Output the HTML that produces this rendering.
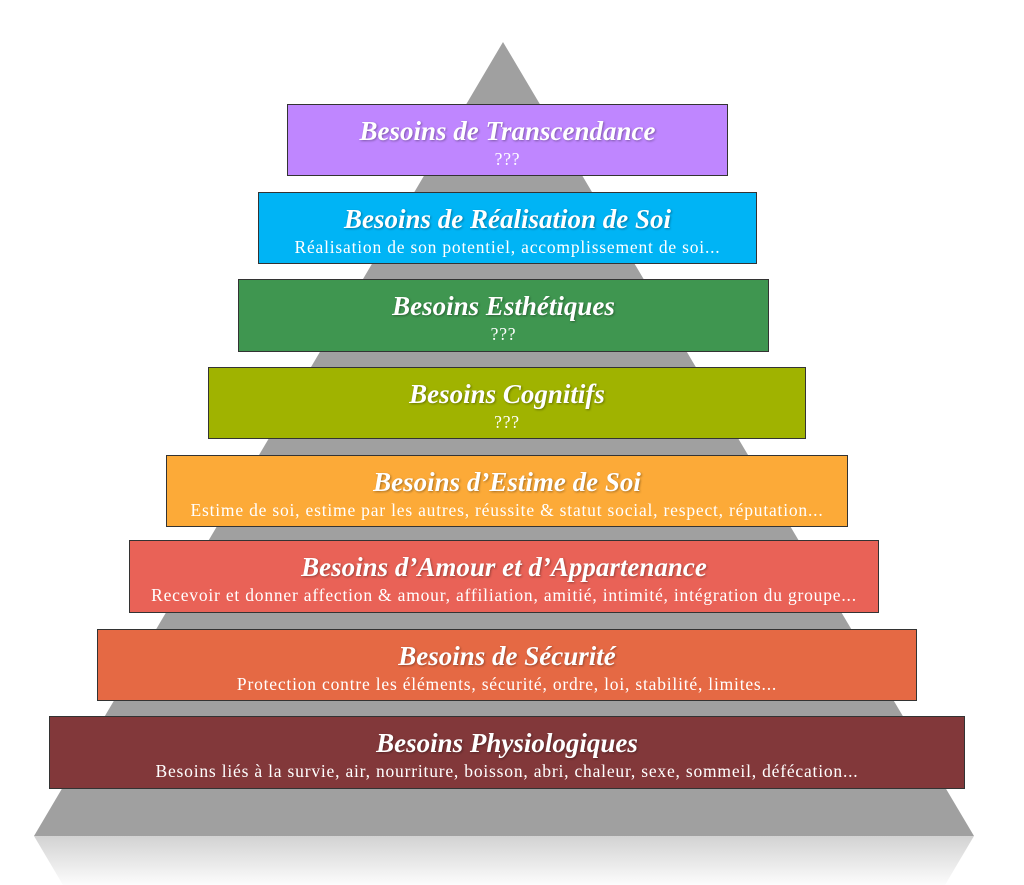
<!DOCTYPE html>
<html><head><meta charset="utf-8"><style>
body{margin:0;width:1024px;height:885px;background:#fff;position:relative;overflow:hidden;font-family:"Liberation Serif",serif}
.b{position:absolute;box-sizing:border-box;border:1px solid #333;color:#fff;text-align:center;white-space:nowrap}
.t{position:absolute;left:0;right:0;top:11px;font-size:27px;font-weight:bold;font-style:italic;line-height:30px;text-shadow:1px 1px 2px rgba(0,0,0,.35)}
.s{position:absolute;left:0;right:0;top:44px;font-size:17.5px;letter-spacing:0.8px;line-height:20px}
</style></head><body>
<svg width="1024" height="885" style="position:absolute;left:0;top:0">
<defs><linearGradient id="g" x1="0" y1="0" x2="0" y2="1"><stop offset="0" stop-color="#d2d2d2"/><stop offset="1" stop-color="#fcfcfc"/></linearGradient></defs>
<polygon points="503,42 34,836 974,836" fill="#a0a0a0"/>
<polygon points="34,836 974,836 945,885 63,885" fill="url(#g)"/>
</svg>
<div class="b" style="left:287px;top:104px;width:441px;height:72px;background:#bf86ff"><div class="t">Besoins de Transcendance</div><div class="s">???</div></div>
<div class="b" style="left:258px;top:192px;width:499px;height:72px;background:#00b4f5"><div class="t">Besoins de Réalisation de Soi</div><div class="s">Réalisation de son potentiel, accomplissement de soi...</div></div>
<div class="b" style="left:238px;top:279px;width:531px;height:73px;background:#3f9650"><div class="t">Besoins Esthétiques</div><div class="s">???</div></div>
<div class="b" style="left:208px;top:367px;width:598px;height:72px;background:#a0b300"><div class="t">Besoins Cognitifs</div><div class="s">???</div></div>
<div class="b" style="left:166px;top:455px;width:682px;height:72px;background:#fcaa38"><div class="t">Besoins d’Estime de Soi</div><div class="s">Estime de soi, estime par les autres, réussite &amp; statut social, respect, réputation...</div></div>
<div class="b" style="left:129px;top:540px;width:750px;height:73px;background:#e96257"><div class="t">Besoins d’Amour et d’Appartenance</div><div class="s">Recevoir et donner affection &amp; amour, affiliation, amitié, intimité, intégration du groupe...</div></div>
<div class="b" style="left:97px;top:629px;width:820px;height:72px;background:#e56944"><div class="t">Besoins de Sécurité</div><div class="s">Protection contre les éléments, sécurité, ordre, loi, stabilité, limites...</div></div>
<div class="b" style="left:49px;top:716px;width:916px;height:73px;background:#82383a"><div class="t">Besoins Physiologiques</div><div class="s">Besoins liés à la survie, air, nourriture, boisson, abri, chaleur, sexe, sommeil, défécation...</div></div>
</body></html>
